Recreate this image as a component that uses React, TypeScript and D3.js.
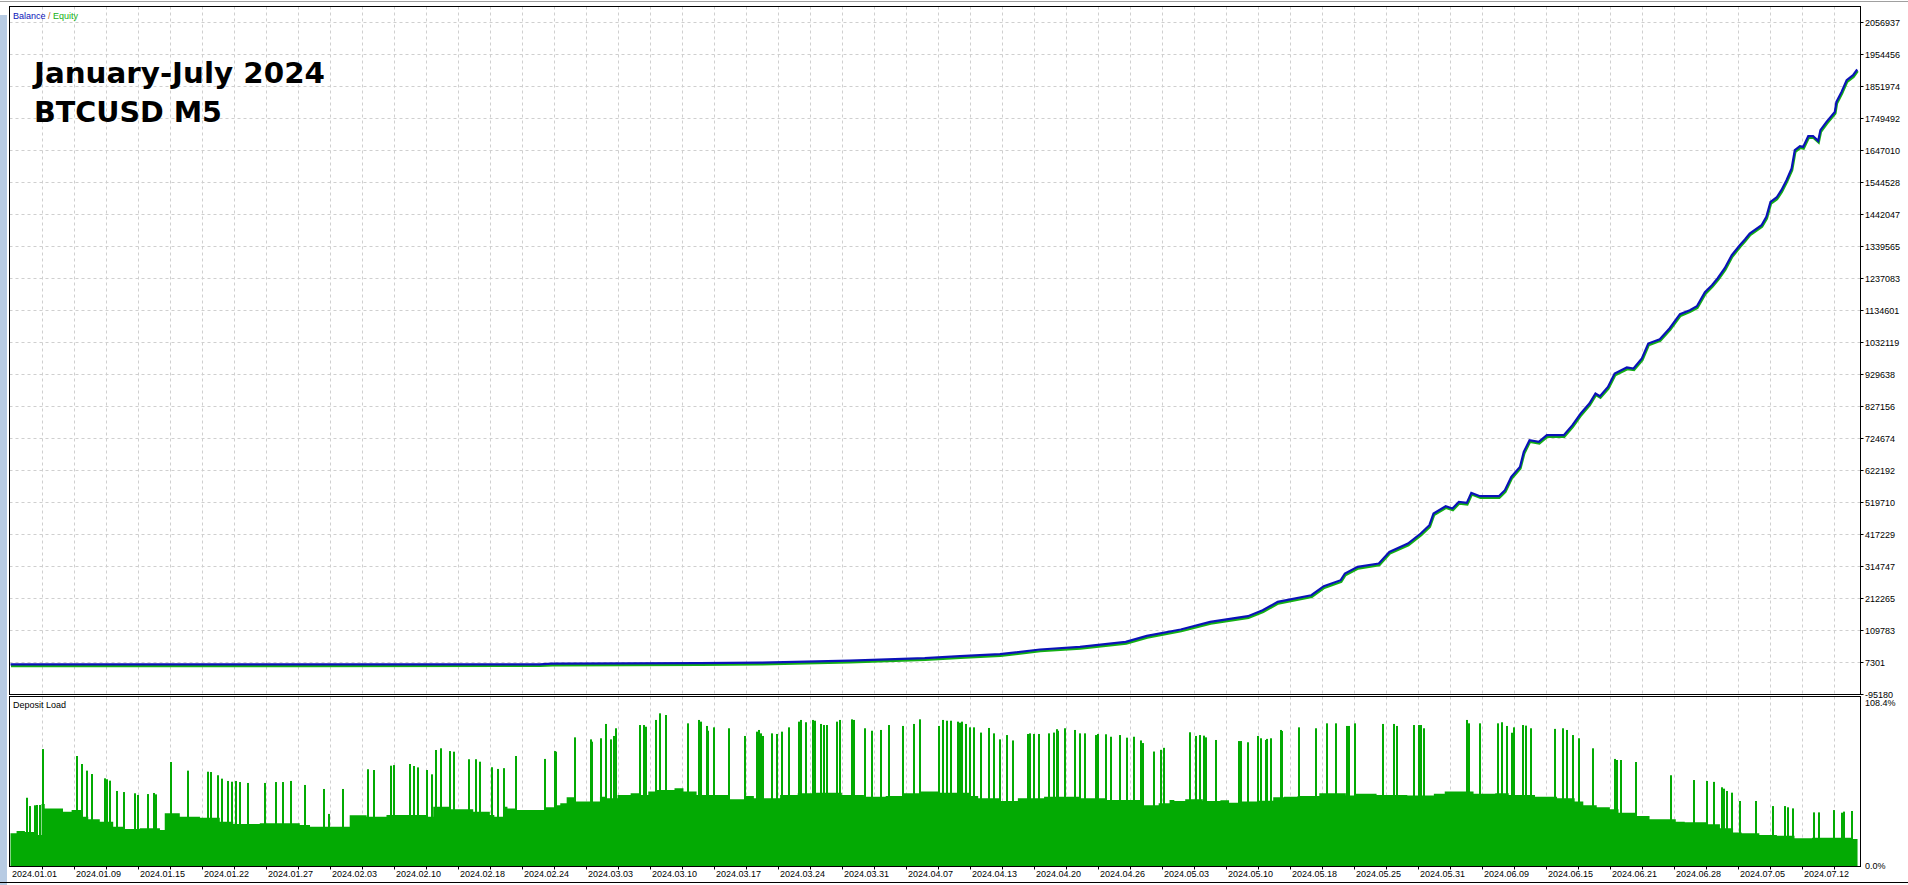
import React, { useEffect, useRef } from 'react';
import * as d3 from 'd3';

const WIDTH = 1908;
const HEIGHT = 885;

// x positions are in "grid steps" of the tester chart (one dashed column = 1 step)
const dateLabels = [
  '2024.01.01', '2024.01.09', '2024.01.15', '2024.01.22', '2024.01.27', '2024.02.03',
  '2024.02.10', '2024.02.18', '2024.02.24', '2024.03.03', '2024.03.10', '2024.03.17',
  '2024.03.24', '2024.03.31', '2024.04.07', '2024.04.13', '2024.04.20', '2024.04.26',
  '2024.05.03', '2024.05.10', '2024.05.18', '2024.05.25', '2024.05.31', '2024.06.09',
  '2024.06.15', '2024.06.21', '2024.06.28', '2024.07.05', '2024.07.12',
];

const balanceTicks = [
  -95180, 7301, 109783, 212265, 314747, 417229, 519710, 622192, 724674, 827156, 929638,
  1032119, 1134601, 1237083, 1339565, 1442047, 1544528, 1647010, 1749492, 1851974,
  1954456, 2056937,
];

const loadTicks: [number, string][] = [[108.4, '108.4%'], [0, '0.0%']];

const balance: [number, number][] = [
  [0, 1000], [9.04, 1200], [16.54, 1500], [16.92, 3400], [21.54, 5000], [23.42, 6600],
  [26.23, 13000], [28.57, 21000], [29.67, 27500], [30.92, 33900], [32.17, 48900],
  [33.42, 57300], [34.85, 73300], [35.51, 92500], [36.57, 113000], [37.49, 137300],
  [38.67, 155600], [39.13, 174800], [39.6, 201400], [40.65, 222800], [41.04, 251700],
  [41.57, 270900], [41.7, 292300], [42.1, 313500], [42.76, 324400], [43.09, 361500],
  [43.67, 388400], [44.07, 420400], [44.34, 447000], [44.47, 484500], [44.85, 507900],
  [45.06, 500500], [45.26, 521600], [45.51, 518400], [45.65, 550500], [45.92, 539900],
  [46.51, 539900], [46.7, 559100], [46.9, 601700], [47.17, 633700], [47.29, 681800],
  [47.47, 719200], [47.76, 713800], [48.01, 735200], [48.54, 735200], [48.81, 767300],
  [49.07, 804700], [49.34, 836800], [49.53, 868800], [49.67, 860100], [49.92, 889900],
  [50.13, 932800], [50.51, 952100], [50.72, 948900], [50.98, 980900], [51.18, 1028900],
  [51.54, 1042700], [51.85, 1077900], [52.17, 1122800], [52.48, 1135600], [52.7, 1148400],
  [52.95, 1193200], [53.17, 1215600], [53.35, 1238000], [53.57, 1270100], [53.79, 1311700],
  [54.04, 1343700], [54.2, 1362000], [54.35, 1381200], [54.72, 1407800], [54.87, 1434400],
  [55.0, 1482400], [55.19, 1496500], [55.34, 1519900], [55.5, 1551900], [55.66, 1589400],
  [55.76, 1648000], [55.92, 1660800], [56.02, 1658500], [56.18, 1692800], [56.33, 1692800],
  [56.49, 1677800], [56.56, 1712000], [56.75, 1738600], [57.01, 1770600], [57.06, 1802700],
  [57.22, 1834700], [57.38, 1872200], [57.58, 1888200], [57.71, 1906400],
];

// deposit load: slowly changing base level (step) ...
const loadBase: [number, number][] = [
  [0, 21.2], [0.19, 22.7], [0.45, 22], [0.81, 20.1], [0.97, 40.2], [1.07, 37.3], [1.64, 35.2],
  [1.91, 36.3], [2.22, 32], [2.43, 30.3], [2.79, 28.8], [3.21, 25.5], [3.52, 24], [4.04, 24.5],
  [4.67, 23.4], [4.82, 34.2], [5.29, 32], [5.92, 31.4], [6.54, 28.8], [6.96, 27.3], [7.79, 27.7],
  [9.04, 26.6], [9.36, 25.5], [10.6, 32.9], [11.13, 32], [11.75, 33.1], [13.0, 32], [13.21, 38.5],
  [13.73, 36.8], [14.46, 35.2], [14.98, 33.1], [15.12, 32], [15.39, 38.5], [15.53, 37.4],
  [15.8, 36.3], [16.7, 38.1], [17.04, 39.5], [17.18, 40.7], [17.38, 44.6], [17.66, 41.8],
  [18.42, 45], [18.62, 43.9], [18.97, 46.1], [19.38, 47.2], [19.65, 46.1], [19.93, 48.3],
  [20.2, 49.3], [20.75, 50.4], [21.03, 48.3], [21.44, 46.1], [22.47, 43.3], [22.95, 45.4],
  [23.23, 43.9], [24.05, 46.1], [24.6, 47.2], [25.15, 47.6], [25.98, 46.1], [26.67, 45],
  [27.35, 45.4], [27.9, 47.2], [28.45, 48.3], [29.0, 47.6], [29.97, 45.4], [30.24, 43.9],
  [30.93, 42.2], [31.48, 43.9], [32.3, 45], [33.4, 43.9], [34.23, 42.8], [35.33, 39.5],
  [35.88, 40.7], [36.22, 42.8], [36.37, 42.2], [36.71, 43.3], [37.26, 42.2], [37.81, 42.6],
  [38.08, 41.1], [38.36, 41.8], [38.98, 42.4], [39.46, 44.6], [39.8, 45], [40.22, 45.4],
  [40.9, 47.2], [41.73, 45.8], [42.0, 46.9], [42.69, 46.1], [43.65, 45.8], [44.48, 46.9],
  [44.82, 48.3], [45.72, 46.9], [46.4, 47.2], [46.82, 46.1], [47.64, 45], [48.33, 43.9],
  [48.88, 41.8], [49.15, 39.5], [49.57, 38.1], [49.98, 36.8], [50.25, 34.6], [50.8, 32.4],
  [51.22, 30.3], [52.04, 28.8], [52.32, 28.4], [53.0, 27.1], [53.42, 24.5], [53.83, 21.7],
  [54.1, 21.2], [54.65, 20.1], [55.2, 19.7], [55.75, 18], [56.3, 18.4], [57.54, 17.6],
  [57.72, 17.6],
];

// ... and the short peaks on top of it
const loadSpikes: [number, number][] = [
  [0.5, 44.3], [0.62, 38.9], [0.76, 39.4], [0.84, 39.6], [0.92, 39.6], [1.02, 75.9],
  [2.07, 71.4], [2.22, 66.2], [2.39, 61.9], [2.56, 59.7], [2.95, 56.9], [3.0, 56.3],
  [3.12, 55.4], [3.33, 48.7], [3.54, 48.0], [3.88, 47.2], [3.99, 46.1], [4.3, 46.7],
  [4.48, 47.4], [4.56, 46.5], [5.01, 67.5], [5.55, 61.9], [6.16, 61.2], [6.26, 61.0],
  [6.47, 58.9], [6.62, 56.7], [6.8, 55.2], [6.93, 54.7], [7.06, 55.2], [7.17, 54.5],
  [7.41, 53.9], [7.95, 53.9], [8.29, 54.5], [8.5, 54.5], [8.78, 55.2], [9.2, 52.6],
  [9.79, 50.0], [9.96, 33.8], [10.39, 50.0], [11.16, 62.8], [11.35, 62.3], [11.88, 65.1],
  [11.99, 65.5], [12.48, 66.2], [12.6, 64.9], [12.72, 64.0], [13.03, 62.3], [13.18, 59.5],
  [13.31, 75.3], [13.44, 76.4], [13.73, 74.6], [13.85, 74.2], [14.32, 69.3], [14.54, 69.3],
  [14.67, 67.7], [15.05, 64.1], [15.23, 63.0], [15.43, 63.5], [15.8, 71.4], [16.7, 69.5],
  [17.0, 74.6], [17.04, 74.2], [17.63, 83.5], [18.14, 82.2], [18.18, 80.7], [18.44, 82.9],
  [18.6, 92.2], [18.76, 82.2], [18.87, 84.4], [18.92, 89.4], [19.67, 91.5], [19.79, 91.5],
  [19.86, 90.4], [20.18, 94.8], [20.3, 99.1], [20.48, 98.0], [21.17, 92.6], [21.52, 94.8],
  [21.58, 93.7], [21.76, 90.9], [21.81, 87.8], [21.98, 90.0], [22.44, 89.4], [22.95, 84.4],
  [23.32, 87.2], [23.39, 88.3], [23.46, 86.1], [23.52, 84.4], [23.79, 86.1], [23.94, 85.7],
  [24.1, 87.2], [24.33, 90.0], [24.63, 93.7], [24.7, 94.8], [24.85, 93.3], [25.09, 94.8],
  [25.15, 94.3], [25.32, 92.2], [25.43, 91.5], [25.53, 91.5], [25.83, 93.7], [25.92, 94.8],
  [26.3, 95.2], [26.35, 94.8], [26.69, 89.4], [26.92, 87.8], [27.19, 88.3], [27.45, 91.5],
  [27.88, 90.9], [28.22, 92.2], [28.41, 95.2], [29.0, 90.9], [29.14, 94.8], [29.28, 94.3],
  [29.38, 94.3], [29.6, 93.7], [29.66, 93.0], [29.73, 93.7], [29.87, 92.2], [29.99, 90.0],
  [30.12, 90.0], [30.34, 86.6], [30.59, 89.6], [30.72, 86.1], [30.93, 82.2], [31.14, 85.0],
  [31.34, 81.5], [31.8, 85.7], [31.85, 86.1], [31.99, 85.7], [32.13, 85.7], [32.44, 86.1],
  [32.62, 86.6], [32.69, 88.8], [32.74, 87.8], [32.96, 89.4], [33.27, 88.3], [33.41, 86.1],
  [33.57, 86.1], [33.93, 85.0], [33.98, 85.7], [34.23, 85.5], [34.4, 83.9], [34.68, 85.0],
  [34.88, 83.3], [35.11, 83.9], [35.33, 81.5], [35.4, 79.8], [35.74, 74.3], [35.95, 75.4],
  [36.06, 76.7], [36.87, 86.8], [37.05, 84.4], [37.16, 85.0], [37.3, 84.6], [37.36, 83.5],
  [37.67, 81.8], [38.4, 81.1], [38.46, 81.1], [38.66, 80.3], [38.98, 84.4], [39.09, 82.9],
  [39.23, 81.8], [39.28, 82.5], [39.39, 82.9], [39.69, 88.3], [39.75, 87.6], [40.26, 90.0],
  [40.81, 89.4], [41.14, 92.6], [41.41, 92.6], [41.76, 90.9], [41.82, 90.9], [42.03, 92.6],
  [42.88, 92.2], [43.23, 92.2], [43.32, 90.9], [43.87, 91.5], [44.02, 91.5], [44.09, 91.5],
  [44.18, 89.4], [45.5, 94.8], [45.59, 92.6], [45.92, 92.6], [46.47, 92.6], [46.61, 93.3],
  [46.76, 90.9], [46.93, 86.5], [46.98, 90.0], [47.26, 91.5], [47.37, 91.1], [47.5, 89.4],
  [48.26, 89.0], [48.52, 89.4], [48.63, 88.3], [48.84, 85.0], [49.02, 82.9], [49.44, 76.4],
  [50.13, 69.5], [50.2, 68.8], [50.32, 68.8], [50.8, 67.5], [51.9, 58.9], [52.62, 55.8],
  [53.03, 55.2], [53.24, 54.6], [53.49, 51.1], [53.55, 50.2], [53.64, 48.7], [53.79, 47.6],
  [54.05, 42.2], [54.56, 42.2], [55.07, 38.9], [55.44, 38.9], [55.55, 38.1], [55.69, 37.4],
  [56.37, 34.8], [56.53, 34.8], [56.97, 36.3], [57.23, 34.6], [57.31, 35.3], [57.54, 35.7],
];

const FONT = "'Liberation Sans', Arial, sans-serif";

const App: React.FC = () => {
  const svgRef = useRef<SVGSVGElement>(null);

  useEffect(() => {
    if (!svgRef.current) return;
    const svg = d3.select(svgRef.current);
    svg.selectAll('*').remove();

    const left = 9.5;
    const right = 1860.5;
    const mainTop = 6.5;
    const mainBottom = 694.5;
    const loadTop = 696.5;
    const loadBottom = 866.5;

    const x = d3.scaleLinear().domain([0, 57]).range([10.5, 1834.5]);
    const y = d3.scaleLinear().domain([-95180, 2056937]).range([694.5, 22.5]);
    const yLoad = d3.scaleLinear().domain([0, 108.4]).range([866, 699]);

    svg.append('rect').attr('width', WIDTH).attr('height', HEIGHT).attr('fill', '#fff');
    svg.append('rect').attr('x', 0).attr('y', 15).attr('width', 7).attr('height', HEIGHT - 15)
      .attr('fill', '#b7cbe3');
    svg.append('line').attr('x1', 0).attr('x2', WIDTH).attr('y1', 1.5).attr('y2', 1.5)
      .attr('stroke', '#a0a0a0');

    const defs = svg.append('defs');
    defs.append('clipPath').attr('id', 'clip-main').append('rect')
      .attr('x', left + 0.5).attr('y', mainTop + 0.5)
      .attr('width', right - left - 1).attr('height', mainBottom - mainTop - 1);
    defs.append('clipPath').attr('id', 'clip-load').append('rect')
      .attr('x', left + 0.5).attr('y', loadTop + 0.5)
      .attr('width', right - left - 1).attr('height', loadBottom - loadTop - 0.5);

    const gridSteps = d3.range(1, 58);
    const grid = svg.append('g').attr('stroke', '#cfcfcf').attr('stroke-dasharray', '3,3');

    // main panel grid
    grid.selectAll('.hg')
      .data(balanceTicks.slice(1))
      .join('line')
      .attr('x1', left).attr('x2', right)
      .attr('y1', d => y(d)).attr('y2', d => y(d));
    grid.selectAll('.vg')
      .data(gridSteps)
      .join('line')
      .attr('class', 'vg')
      .attr('x1', d => x(d)).attr('x2', d => x(d))
      .attr('y1', mainTop).attr('y2', mainBottom);
    // deposit panel grid
    grid.selectAll('.vl')
      .data(gridSteps)
      .join('line')
      .attr('class', 'vl')
      .attr('x1', d => x(d)).attr('x2', d => x(d))
      .attr('y1', loadTop).attr('y2', loadBottom);

    // equity / balance
    const line = d3.line<[number, number]>()
      .x(d => x(d[0]))
      .y(d => y(d[1]));

    const main = svg.append('g').attr('clip-path', 'url(#clip-main)');
    main.append('path')
      .datum(balance)
      .attr('fill', 'none')
      .attr('stroke', '#14b014')
      .attr('stroke-width', 2.4)
      .attr('transform', 'translate(0.5,1.6)')
      .attr('d', line);
    main.append('path')
      .datum(balance)
      .attr('fill', 'none')
      .attr('stroke', '#0b12b8')
      .attr('stroke-width', 2.2)
      .attr('d', line);

    // deposit load
    const load = svg.append('g').attr('clip-path', 'url(#clip-load)');
    const area = d3.area<[number, number]>()
      .x(d => x(d[0]))
      .y0(yLoad(0))
      .y1(d => yLoad(d[1]))
      .curve(d3.curveStepAfter);
    load.append('path')
      .datum(loadBase)
      .attr('fill', '#03aa03')
      .attr('d', area);
    load.selectAll('.spike')
      .data(loadSpikes)
      .join('rect')
      .attr('x', d => Math.round(x(d[0])) - 1)
      .attr('width', 2)
      .attr('y', d => yLoad(d[1]))
      .attr('height', d => yLoad(0) - yLoad(d[1]))
      .attr('fill', '#03aa03');

    // frames
    const frame = svg.append('g').attr('stroke', '#000').attr('fill', 'none');
    frame.append('rect').attr('x', left).attr('y', mainTop)
      .attr('width', right - left).attr('height', mainBottom - mainTop);
    frame.append('rect').attr('x', left).attr('y', loadTop)
      .attr('width', right - left).attr('height', loadBottom - loadTop);
    frame.append('line').attr('x1', 0).attr('x2', WIDTH).attr('y1', 882.5).attr('y2', 882.5);

    // y axis
    const yAxis = svg.append('g').attr('font-family', FONT).attr('font-size', 9).attr('fill', '#000');
    yAxis.selectAll('line')
      .data(balanceTicks)
      .join('line')
      .attr('x1', right).attr('x2', right + 3)
      .attr('y1', d => y(d)).attr('y2', d => y(d))
      .attr('stroke', '#000');
    yAxis.selectAll('text')
      .data(balanceTicks)
      .join('text')
      .attr('x', 1865)
      .attr('y', d => y(d))
      .attr('dy', '0.35em')
      .text(d => String(d));

    const loadAxis = svg.append('g').attr('font-family', FONT).attr('font-size', 9).attr('fill', '#000');
    loadAxis.selectAll('text')
      .data(loadTicks)
      .join('text')
      .attr('x', 1865)
      .attr('y', d => (d[0] === 0 ? yLoad(0) : 703))
      .attr('dy', '0.35em')
      .text(d => d[1]);

    // x axis
    const xAxis = svg.append('g').attr('font-family', FONT).attr('font-size', 9).attr('fill', '#000');
    xAxis.selectAll('line')
      .data(gridSteps)
      .join('line')
      .attr('x1', d => x(d)).attr('x2', d => x(d))
      .attr('y1', loadBottom).attr('y2', loadBottom + 3)
      .attr('stroke', '#000');
    xAxis.selectAll('text')
      .data(dateLabels)
      .join('text')
      .attr('x', (_, i) => x(i * 2) + 1.5)
      .attr('y', 873.5)
      .attr('dy', '0.35em')
      .text(d => d);

    // legends
    const legend = svg.append('text')
      .attr('x', 13).attr('y', 16)
      .attr('dy', '0.35em')
      .attr('font-family', FONT).attr('font-size', 9);
    legend.append('tspan').attr('fill', '#0b12b8').text('Balance');
    legend.append('tspan').attr('fill', '#c07020').text(' / ');
    legend.append('tspan').attr('fill', '#14b014').text('Equity');

    svg.append('text')
      .attr('x', 13).attr('y', 705)
      .attr('dy', '0.35em')
      .attr('font-family', FONT).attr('font-size', 9)
      .attr('fill', '#000')
      .text('Deposit Load');

    // title
    const title = svg.append('g')
      .attr('font-family', "'DejaVu Sans', Verdana, sans-serif")
      .attr('font-weight', 'bold')
      .attr('font-size', 28)
      .attr('fill', '#000');
    title.append('text').attr('x', 34).attr('y', 83)
      .attr('textLength', 291).attr('lengthAdjust', 'spacingAndGlyphs')
      .text('January-July 2024');
    title.append('text').attr('x', 34).attr('y', 121.5)
      .attr('textLength', 188).attr('lengthAdjust', 'spacingAndGlyphs')
      .text('BTCUSD M5');
  }, []);

  return (
    <svg
      ref={svgRef}
      width={WIDTH}
      height={HEIGHT}
      style={{ position: 'absolute', left: 0, top: 0, display: 'block' }}
    />
  );
};

export default App;
